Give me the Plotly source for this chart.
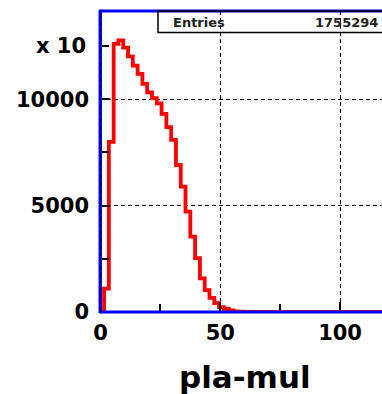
import plotly.graph_objects as go

# ---- data ----
bin_width = 2.0
bin_centers = [0.5 + 2 * i for i in range(59)]
counts = [0, 1100, 8000, 12600, 12770, 12430, 12020, 11580, 11190, 10720,
          10320, 10050, 9810, 9310, 8690, 8090, 6910, 5890, 4720, 3540,
          2530, 1580, 1030, 660, 420, 230, 140, 70, 30, 15,
          8, 4, 2, 1, 0, 0, 0, 0, 0, 0,
          0, 0, 0, 0, 0, 0, 0, 0, 0, 0,
          0, 0, 0, 0, 0, 0, 0, 0, 0]
x_tick_vals = [0, 50, 100]
x_tick_text = ["0", "50", "100"]
y_tick_vals = [0, 5000, 10000]
y_tick_text = ["0", "5000", "10000"]
x_title = "pla-mul"
entries_label = "Entries"
entries_value = "1755294"
exp_label = "x 10"

# step outline from bin edges
edges = [c - bin_width / 2 for c in bin_centers] + [bin_centers[-1] + bin_width / 2]
step_y = counts + [counts[-1]]

FONT = "DejaVu Sans"
W, H = 382, 394
ML, MR, MT, MB = 100, 0, 11, 82
XR = [-0.2, 117.5]
YR = [0, 14150]

fig = go.Figure()
fig.add_trace(go.Scatter(
    x=edges, y=step_y, mode="lines", line_shape="hv",
    line=dict(color="#ff0000", width=3.8), hoverinfo="skip", showlegend=False))

axis_common = dict(
    showline=False, zeroline=False,
    ticks="inside", tickcolor="black", tickwidth=1.5, ticklen=10,
    showgrid=True, gridcolor="black", gridwidth=1.2, griddash="4px,3px",
    tickfont=dict(family=FONT, size=21, color="black", weight="bold"),
)

fig.update_xaxes(range=XR, tickvals=x_tick_vals, ticktext=x_tick_text, ticklabelstandoff=6,
                 minor=dict(dtick=25, tick0=0, ticks="inside", ticklen=8,
                            tickcolor="black", tickwidth=1.5, showgrid=False),
                 **axis_common)
fig.update_yaxes(range=YR, tickvals=y_tick_vals, ticktext=y_tick_text, ticklabelstandoff=10,
                 minor=dict(dtick=2500, tick0=0, ticks="inside", ticklen=9,
                            tickcolor="black", tickwidth=1.5, showgrid=False),
                 **axis_common)

shapes = []
# blue frame (left, top, bottom)
blue = "#0000ff"
shapes.append(dict(type="line", xref="paper", yref="paper", x0=0.001, x1=0.001, y0=-0.004, y1=1.004,
                   line=dict(color=blue, width=3.5), layer="above"))
shapes.append(dict(type="line", xref="paper", yref="paper", x0=0, x1=1, y0=1, y1=1,
                   line=dict(color=blue, width=3), layer="above"))
shapes.append(dict(type="line", xref="paper", yref="paper", x0=0, x1=1, y0=0, y1=0,
                   line=dict(color=blue, width=3), layer="above"))
# dashed grid at x=0 over the blue
shapes.append(dict(type="line", xref="paper", yref="paper", x0=0.002, x1=0.002, y0=0, y1=1,
                   line=dict(color="black", width=1, dash="4px,3px"), layer="above"))
# stats box
box_left_px, box_bottom_px = 158, 32.5
bx0 = (box_left_px - ML) / (W - ML - MR)
by0 = 1 - (box_bottom_px - MT) / (H - MT - MB)
shapes.append(dict(type="rect", xref="paper", yref="paper", x0=bx0, x1=1.05, y0=by0, y1=1.0,
                   line=dict(color="black", width=1.5), fillcolor="rgba(0,0,0,0)", layer="above"))

pw = W - ML - MR
ph = H - MT - MB
def px2paperx(px):
    return (px - ML) / pw
def py2papery(py):
    return 1 - (py - MT) / ph

annotations = [
    dict(text=entries_label, xref="paper", yref="paper", x=px2paperx(171), y=py2papery(22.5),
         xanchor="left", yanchor="middle", showarrow=False,
         font=dict(family=FONT, size=13, color="#222", weight="bold")),
    dict(text=entries_value, xref="paper", yref="paper", x=px2paperx(380), y=py2papery(22.5),
         xanchor="right", yanchor="middle", showarrow=False,
         font=dict(family=FONT, size=13, color="#222", weight="bold")),
    dict(text=exp_label, xref="paper", yref="y", x=px2paperx(88), y=12500,
         xanchor="right", yanchor="middle", showarrow=False,
         font=dict(family=FONT, size=21, color="black", weight="bold")),
    dict(text=x_title, xref="paper", yref="paper", x=px2paperx(245), y=py2papery(377),
         xanchor="center", yanchor="middle", showarrow=False,
         font=dict(family=FONT, size=31, color="black", weight="bold")),
]

fig.update_layout(
    width=W, height=H, margin=dict(l=ML, r=MR, t=MT, b=MB, pad=0),
    paper_bgcolor="white", plot_bgcolor="white",
    shapes=shapes, annotations=annotations, showlegend=False,
)

fig.write_html("out.html")
